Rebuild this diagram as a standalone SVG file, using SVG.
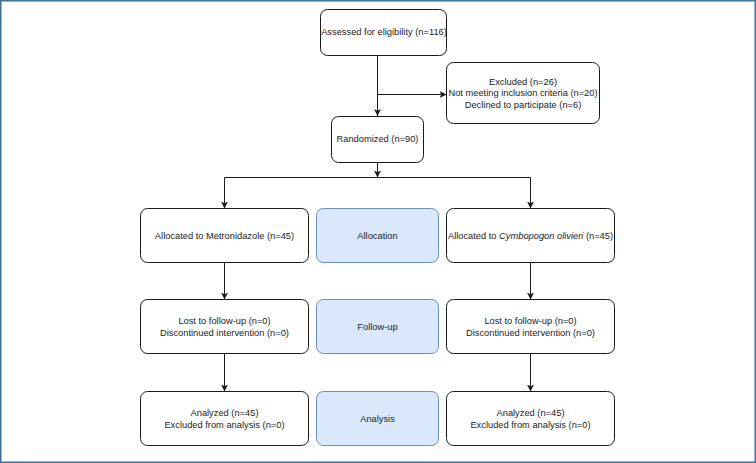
<svg xmlns="http://www.w3.org/2000/svg" width="756" height="463" viewBox="0 0 756 463">
  <defs>
    <marker id="arrow" viewBox="0 0 8 8" refX="8" refY="4" markerWidth="7" markerHeight="7" markerUnits="userSpaceOnUse" orient="auto">
      <path d="M0,0 L8,4 L0,8 L2,4 Z" fill="#1a1a1a"/>
    </marker>
    <style>
      .box { fill: #ffffff; stroke: #1a1a1a; stroke-width: 1; }
      .stage { fill: #dae8fc; stroke: #6c8ebf; stroke-width: 1; }
      .lbl { font-family: "Liberation Sans", Arial, Helvetica, sans-serif; font-size: 9.3px; fill: #222222; text-anchor: middle; }
      .edge { fill: none; stroke: #1a1a1a; stroke-width: 1; }
      .frame { fill: #ffffff; stroke: #41709a; stroke-width: 1.5; }
    </style>
  </defs>

  <!-- outer frame -->
  <rect class="frame" x="0.75" y="0.75" width="754.5" height="461.5"/>

  <!-- connectors -->
  <g id="connectors">
    <path class="edge" d="M377.5,55 L377.5,116" marker-end="url(#arrow)"/>
    <path class="edge" d="M377.5,94.5 L446.5,94.5" marker-end="url(#arrow)"/>
    <path class="edge" d="M377.5,162.5 L377.5,177.5" marker-end="url(#arrow)"/>
    <path class="edge" d="M224.5,177.5 L530.5,177.5"/>
    <path class="edge" d="M224.5,177.5 L224.5,208.5" marker-end="url(#arrow)"/>
    <path class="edge" d="M530.5,177.5 L530.5,208.5" marker-end="url(#arrow)"/>
    <path class="edge" d="M224.5,262.5 L224.5,299.5" marker-end="url(#arrow)"/>
    <path class="edge" d="M530.5,262.5 L530.5,299.5" marker-end="url(#arrow)"/>
    <path class="edge" d="M224.5,353.5 L224.5,391.5" marker-end="url(#arrow)"/>
    <path class="edge" d="M530.5,353.5 L530.5,391.5" marker-end="url(#arrow)"/>
  </g>

  <g id="assessed">
    <rect class="box" x="320.5" y="9.5" width="126" height="46" rx="7"/>
    <text class="lbl" x="384" y="35.3">Assessed for eligibility (n=116)</text>
  </g>

  <g id="excluded">
    <rect class="box" x="446.5" y="62.5" width="153" height="61" rx="7"/>
    <text class="lbl" x="523" y="84.6">Excluded (n=26)</text>
    <text class="lbl" x="523" y="96.4">Not meeting inclusion criteria (n=20)</text>
    <text class="lbl" x="523" y="108">Declined to participate (n=6)</text>
  </g>

  <g id="randomized">
    <rect class="box" x="331.5" y="116.5" width="92" height="46" rx="7"/>
    <text class="lbl" x="377.5" y="142">Randomized (n=90)</text>
  </g>

  <g id="alloc-metronidazole">
    <rect class="box" x="140.5" y="208.5" width="168" height="54" rx="7"/>
    <text class="lbl" x="224.5" y="238.5">Allocated to Metronidazole (n=45)</text>
  </g>

  <g id="allocation">
    <rect class="stage" x="316.5" y="208.5" width="122" height="54" rx="7"/>
    <text class="lbl" x="377.5" y="238.5">Allocation</text>
  </g>

  <g id="alloc-cymbopogon">
    <rect class="box" x="446.5" y="208.5" width="168" height="54" rx="7"/>
    <text class="lbl" x="530.5" y="238.5">Allocated to <tspan font-style="italic">Cymbopogon olivieri</tspan> (n=45)</text>
  </g>

  <g id="followup-left">
    <rect class="box" x="140.5" y="299.5" width="168" height="54" rx="7"/>
    <text class="lbl" x="224.5" y="324.3">Lost to follow-up (n=0)</text>
    <text class="lbl" x="224.5" y="335.8">Discontinued intervention (n=0)</text>
  </g>

  <g id="followup">
    <rect class="stage" x="316.5" y="299.5" width="122" height="54" rx="7"/>
    <text class="lbl" x="377.5" y="329.5">Follow-up</text>
  </g>

  <g id="followup-right">
    <rect class="box" x="446.5" y="299.5" width="168" height="54" rx="7"/>
    <text class="lbl" x="530.5" y="324.3">Lost to follow-up (n=0)</text>
    <text class="lbl" x="530.5" y="335.8">Discontinued intervention (n=0)</text>
  </g>

  <g id="analysis-left">
    <rect class="box" x="140.5" y="391.5" width="168" height="54" rx="7"/>
    <text class="lbl" x="224.5" y="416.3">Analyzed (n=45)</text>
    <text class="lbl" x="224.5" y="428">Excluded from analysis (n=0)</text>
  </g>

  <g id="analysis">
    <rect class="stage" x="316.5" y="391.5" width="122" height="54" rx="7"/>
    <text class="lbl" x="377.5" y="421.5">Analysis</text>
  </g>

  <g id="analysis-right">
    <rect class="box" x="446.5" y="391.5" width="168" height="54" rx="7"/>
    <text class="lbl" x="530.5" y="416.3">Analyzed (n=45)</text>
    <text class="lbl" x="530.5" y="428">Excluded from analysis (n=0)</text>
  </g>
</svg>
